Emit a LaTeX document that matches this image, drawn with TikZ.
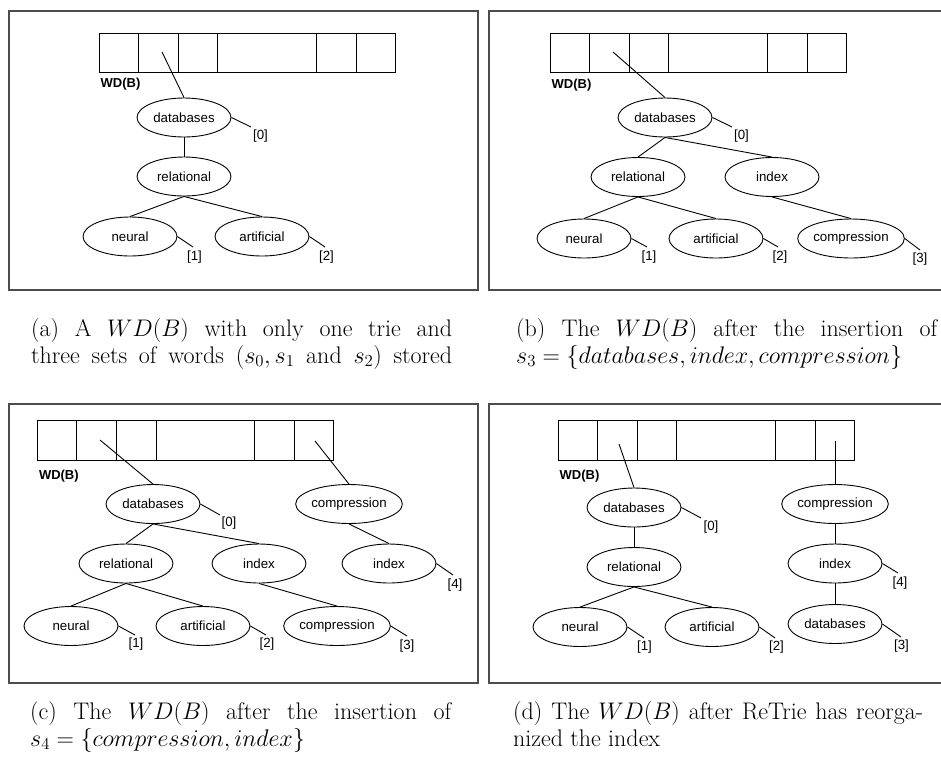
\RequirePackage{fix-cm}
\documentclass[tikz,border=0pt]{standalone}
\usepackage{fontspec}
\newfontfamily\nodefont{Liberation Sans}
\usetikzlibrary{shapes.geometric,calc}

\tikzset{
  word/.style={ellipse, draw, line width=0.9pt, minimum width=94pt,
    minimum height=39pt, inner sep=0pt,
    font=\nodefont\fontsize{13.3}{15}\selectfont},
  cell/.style={draw, line width=0.9pt, minimum height=39.5pt,
    inner sep=0pt, outer sep=0pt, anchor=north west},
  wdlabel/.style={font=\nodefont\bfseries\fontsize{13}{15}\selectfont,
    inner sep=0pt, anchor=west},
  idx/.style={font=\nodefont\fontsize{13.3}{15}\selectfont, inner sep=0pt},
  link/.style={line width=0.9pt},
  frame/.style={line width=1.2pt, draw=black!70},
  caption/.style={inner sep=0pt, anchor=base west,
    font=\fontsize{24}{27}\selectfont},
}

% the word directory array: #1 prefix, #2 x, #3 y, #4 label offset
\newcommand\wdrow[4]{%
  \node[cell, minimum width=39.6pt] (#1c1) at (#2,#3) {};
  \node[cell, minimum width=39.6pt] (#1c2) at (#1c1.north east) {};
  \node[cell, minimum width=39.6pt] (#1c3) at (#1c2.north east) {};
  \node[cell, minimum width=98.6pt] (#1c4) at (#1c3.north east) {};
  \node[cell, minimum width=39.6pt] (#1c5) at (#1c4.north east) {};
  \node[cell, minimum width=39.6pt] (#1c6) at (#1c5.north east) {};
  \node[wdlabel] (#1wd) at ($(#1c1.south west)+(1.5,#4)$) {WD(B)};
}

\begin{document}
\begin{tikzpicture}[x=1pt,y=-1pt]
\useasboundingbox (0,0) rectangle (941,756);

% ---------------- (a) ----------------
\draw[frame] (9,11) rectangle (478,290);
\wdrow{A}{99}{33.3}{11.5}
\node[word] (dbA)  at (184,117.5) {databases};
\node[word] (relA) at (184,176.5) {relational};
\node[word] (neuA) at (130,236.5) {neural};
\node[word] (artA) at (262,236.5) {artificial};
\coordinate (pA) at (162,52);
\draw[link] (pA) -- (dbA.north);
\draw[link] (dbA.south) -- (relA.north);
\draw[link] (relA.south) -- (neuA.north);
\draw[link] (relA.south) -- (artA.north);
\coordinate (tA0) at (251,127);
\coordinate (tA1) at (193,247);
\coordinate (tA2) at (325,247);
\draw[link] (dbA.east) -- (tA0);
\draw[link] (neuA.east) -- (tA1);
\draw[link] (artA.east) -- (tA2);
\node[idx] (lA0) at (260.5,136) {[0]};
\node[idx] (lA1) at (194.5,257) {[1]};
\node[idx] (lA2) at (326.5,257) {[2]};

% ---------------- (b) ----------------
\draw[frame] (941,11) -- (489,11) -- (489,290) -- (941,290);
\wdrow{B}{550}{33.3}{12}
\node[word] (dbB)  at (665,117.5) {databases};
\node[word] (relB) at (638,177) {relational};
\node[word] (idxB) at (772,177) {index};
\node[word] (neuB) at (584,238.5) {neural};
\node[word] (artB) at (716,238.5) {artificial};
\node[word] (cmpB) at (851,238.5) {compression};
\coordinate (pB) at (613,52);
\draw[link] (pB) -- (dbB.north);
\draw[link] (dbB.south) -- (relB.north);
\draw[link] (dbB.south) -- (idxB.north);
\draw[link] (relB.south) -- (neuB.north);
\draw[link] (relB.south) -- (artB.north);
\draw[link] (idxB.south) -- (cmpB.north);
\coordinate (tB0) at (732,127);
\coordinate (tB1) at (647,247);
\coordinate (tB2) at (778,247);
\coordinate (tB3) at (920,250);
\draw[link] (dbB.east) -- (tB0);
\draw[link] (neuB.east) -- (tB1);
\draw[link] (artB.east) -- (tB2);
\draw[link] (cmpB.east) -- (tB3);
\node[idx] (lB0) at (741.5,136) {[0]};
\node[idx] (lB1) at (649,257) {[1]};
\node[idx] (lB2) at (780,257) {[2]};
\node[idx] (lB3) at (920,259) {[3]};

% ---------------- (c) ----------------
\draw[frame] (9,404) rectangle (478,683);
\wdrow{C}{37.3}{420.7}{15.5}
\node[word] (dbC)   at (153,504) {databases};
\node[word] (cmpC)  at (349,504) {compression};
\node[word] (relC)  at (126,563.5) {relational};
\node[word] (idxC)  at (259,563.5) {index};
\node[word] (idxCr) at (389,563.5) {index};
\node[word] (neuC)  at (71,626) {neural};
\node[word] (artC)  at (203,626) {artificial};
\node[word] (cmpCb) at (337,626) {compression};
\coordinate (pC) at (100,440);
\coordinate (qC) at (315,441);
\draw[link] (pC) -- (dbC.north);
\draw[link] (qC) -- (cmpC.north);
\draw[link] (dbC.south) -- (relC.north);
\draw[link] (dbC.south) -- (idxC.north);
\draw[link] (cmpC.south) -- (idxCr.north);
\draw[link] (relC.south) -- (neuC.north);
\draw[link] (relC.south) -- (artC.north);
\draw[link] (idxC.south) -- (cmpCb.north);
\coordinate (tC0) at (220,515);
\coordinate (tC4) at (453,575);
\coordinate (tC1) at (135,635);
\coordinate (tC2) at (266,635);
\coordinate (tC3) at (407,636);
\draw[link] (dbC.east) -- (tC0);
\draw[link] (idxCr.east) -- (tC4);
\draw[link] (neuC.east) -- (tC1);
\draw[link] (artC.east) -- (tC2);
\draw[link] (cmpCb.east) -- (tC3);
\node[idx] (lC0) at (229,523) {[0]};
\node[idx] (lC4) at (455,585) {[4]};
\node[idx] (lC1) at (136,644) {[1]};
\node[idx] (lC2) at (267,644) {[2]};
\node[idx] (lC3) at (407,646) {[3]};

% ---------------- (d) ----------------
\draw[frame] (941,404) -- (489,404) -- (489,683) -- (941,683);
\wdrow{D}{558}{420.7}{15.5}
\node[word] (dbD)   at (634,507.5) {databases};
\node[word] (relD)  at (634,567) {relational};
\node[word] (neuD)  at (580,627) {neural};
\node[word] (artD)  at (712,627) {artificial};
\node[word] (cmpD)  at (835,504) {compression};
\node[word] (idxD)  at (835,563.5) {index};
\node[word] (dbDr)  at (835,624) {databases};
\coordinate (pD) at (619,444);
\coordinate (qD) at (835,441);
\draw[link] (pD) -- (dbD.north);
\draw[link] (qD) -- (cmpD.north);
\draw[link] (dbD.south) -- (relD.north);
\draw[link] (relD.south) -- (neuD.north);
\draw[link] (relD.south) -- (artD.north);
\draw[link] (cmpD.south) -- (idxD.north);
\draw[link] (idxD.south) -- (dbDr.north);
\coordinate (tD0) at (701,518);
\coordinate (tD1) at (644,638);
\coordinate (tD2) at (775,638);
\coordinate (tD4) at (898,573);
\coordinate (tD3) at (901,637);
\draw[link] (dbD.east) -- (tD0);
\draw[link] (neuD.east) -- (tD1);
\draw[link] (artD.east) -- (tD2);
\draw[link] (idxD.east) -- (tD4);
\draw[link] (dbDr.east) -- (tD3);
\node[idx] (lD0) at (711,527) {[0]};
\node[idx] (lD1) at (644.5,647) {[1]};
\node[idx] (lD2) at (776.5,647) {[2]};
\node[idx] (lD4) at (900,583) {[4]};
\node[idx] (lD3) at (901.5,646) {[3]};

% ---------------- captions ----------------
\node[caption] (capA) at (31,363) {\vbox{\baselineskip=27pt
  \hbox to 421pt{(a) A $WD(B)$ with only one trie and}
  \hbox to 421pt{three sets of words $(s_0, s_1$ and $s_2)$ stored}}};
\node[caption] (capB) at (516,363) {\vbox{\baselineskip=27pt
  \hbox to 421pt{(b) The $WD(B)$ after the insertion of}
  \hbox{$s_3 = \{databases, index, compression\}$}}};
\node[caption] (capC) at (30,746) {\vbox{\baselineskip=27pt
  \hbox to 421pt{(c) The $WD(B)$ after the insertion of}
  \hbox{$s_4 = \{compression, index\}$}}};
\node[caption] (capD) at (513,746) {\vbox{\baselineskip=27pt
  \hbox to 410pt{(d) The $WD(B)$ after ReTrie has reorga-}
  \hbox{nized the index}}};
\end{tikzpicture}
\end{document}
